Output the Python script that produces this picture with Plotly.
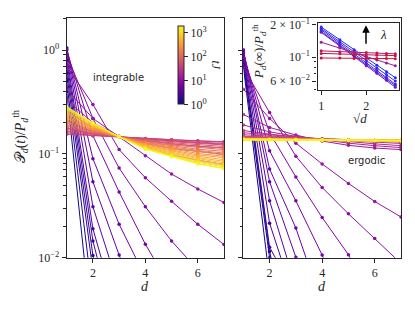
import math
import plotly.graph_objects as go
from plotly.colors import sample_colorscale

# ---------------- data ----------------
D = [1, 2, 3, 4, 5, 6, 7]

# times tJ of the curves in the left (integrable) panel
T_LEFT = [1.0, 1.22, 1.5, 1.8, 2.2, 2.7, 3.3, 4.0, 4.9, 6.0, 7.3, 8.9, 10.9,
          13.3, 16.2, 19.8, 24.2, 29.5, 36,
          44, 55, 68, 85, 106, 132, 164, 204, 254, 316, 393, 489, 608, 756, 940, 1170, 1450, 1780]

# P_d(t)/P_d^th for d = 1..7, integrable
P_LEFT = [
    [0.40, 0.0016, None, None, None, None, None],
    [0.50, 0.0040, None, None, None, None, None],
    [0.60, 0.0075, 0.0004, None, None, None, None],
    [0.70, 0.0105, 0.0008, None, None, None, None],
    [0.80, 0.0145, 0.0015, None, None, None, None],
    [0.90, 0.019, 0.0025, 0.0002, None, None, None],
    [1.00, 0.031, 0.005, 0.0006, None, None, None],
    [1.05, 0.054, 0.0106, 0.0025, 0.0004, None, None],
    [1.05, 0.090, 0.021, 0.0065, 0.0015, 0.0003, None],
    [1.00, 0.150, 0.043, 0.0135, 0.005, 0.0015, 0.0004],
    [0.90, 0.220, 0.073, 0.031, 0.0145, 0.0075, 0.004],
    [0.70, 0.300, 0.110, 0.059, 0.035, 0.021, 0.0134],
    [0.42, 0.220, 0.146, 0.096, 0.064, 0.046, 0.034],
    [0.33, 0.200, 0.148, 0.116, 0.098, 0.087, 0.079],
    [0.26, 0.178, 0.147, 0.126, 0.113, 0.105, 0.099],
    [0.21, 0.163, 0.146, 0.134, 0.125, 0.119, 0.114],
    [0.178, 0.155, 0.146, 0.139, 0.133, 0.128, 0.124],
    [0.160, 0.151, 0.146, 0.141, 0.137, 0.134, 0.131],
    [0.155, 0.150, 0.146, 0.141, 0.137, 0.133, 0.130],
    [0.166, 0.154, 0.146, 0.139, 0.134, 0.130, 0.126],
    [0.172, 0.156, 0.146, 0.137, 0.131, 0.126, 0.122],
    [0.178, 0.159, 0.146, 0.135, 0.128, 0.122, 0.118],
    [0.184, 0.162, 0.146, 0.133, 0.125, 0.118, 0.114],
    [0.190, 0.164, 0.146, 0.131, 0.122, 0.115, 0.110],
    [0.197, 0.167, 0.146, 0.129, 0.120, 0.111, 0.106],
    [0.204, 0.170, 0.146, 0.128, 0.117, 0.108, 0.102],
    [0.211, 0.173, 0.146, 0.126, 0.114, 0.105, 0.098],
    [0.219, 0.176, 0.146, 0.124, 0.112, 0.101, 0.095],
    [0.226, 0.179, 0.146, 0.122, 0.109, 0.098, 0.092],
    [0.234, 0.182, 0.146, 0.120, 0.107, 0.095, 0.088],
    [0.243, 0.185, 0.146, 0.119, 0.104, 0.092, 0.085],
    [0.251, 0.188, 0.146, 0.117, 0.102, 0.090, 0.082],
    [0.260, 0.191, 0.146, 0.115, 0.100, 0.087, 0.079],
    [0.268, 0.194, 0.146, 0.114, 0.098, 0.085, 0.077],
    [0.274, 0.196, 0.146, 0.113, 0.096, 0.083, 0.075],
    [0.280, 0.198, 0.146, 0.112, 0.095, 0.081, 0.073],
    [0.285, 0.200, 0.146, 0.111, 0.094, 0.080, 0.072],
]

# times tJ of the curves in the right (ergodic) panel
T_RIGHT = [1.0, 1.25, 1.55, 1.95, 2.4, 3.0, 3.7, 4.6, 5.7, 7.1, 8.8, 10.9,
           13.3, 16.2, 19.8, 24.2, 29.5, 36,
           44, 58, 76, 100, 132, 174, 229, 302, 398, 525, 692, 912, 1350, 1780]

P_RIGHT = [
    [0.70, 0.0062, None, None, None, None, None],
    [0.76, 0.0100, 0.0003, None, None, None, None],
    [0.82, 0.0115, 0.0009, None, None, None, None],
    [0.88, 0.0126, 0.0044, 0.0006, None, None, None],
    [0.93, 0.0215, 0.0036, None, None, None, None],
    [0.97, 0.0353, 0.0052, 0.0005, None, None, None],
    [1.00, 0.054, 0.0101, 0.0012, None, None, None],
    [1.00, 0.0716, 0.0193, 0.0035, 0.0004, None, None],
    [0.95, 0.107, 0.0353, 0.0106, 0.0025, 0.0005, None],
    [0.85, 0.160, 0.060, 0.0244, 0.0107, 0.0035, 0.0009],
    [0.68, 0.250, 0.095, 0.0475, 0.0265, 0.0153, 0.0088],
    [0.42, 0.220, 0.127, 0.080, 0.052, 0.0348, 0.0247],
    [0.24, 0.180, 0.152, 0.133, 0.121, 0.114, 0.110],
    [0.19, 0.163, 0.148, 0.136, 0.127, 0.120, 0.115],
    [0.168, 0.155, 0.146, 0.138, 0.131, 0.125, 0.120],
    [0.160, 0.152, 0.145, 0.139, 0.134, 0.129, 0.126],
    [0.153, 0.148, 0.143, 0.139, 0.136, 0.133, 0.130],
    [0.148, 0.145, 0.142, 0.139, 0.137, 0.135, 0.133],
    [0.146, 0.143, 0.141, 0.139, 0.137, 0.135, 0.133],
    [0.144, 0.142, 0.140, 0.138, 0.137, 0.135, 0.134],
    [0.142, 0.141, 0.139, 0.138, 0.136, 0.135, 0.134],
    [0.141, 0.140, 0.139, 0.137, 0.136, 0.135, 0.134],
    [0.140, 0.139, 0.138, 0.137, 0.136, 0.135, 0.134],
    [0.140, 0.139, 0.138, 0.137, 0.136, 0.135, 0.135],
    [0.139, 0.138, 0.138, 0.137, 0.136, 0.135, 0.135],
    [0.139, 0.138, 0.137, 0.137, 0.136, 0.135, 0.135],
    [0.139, 0.138, 0.137, 0.136, 0.136, 0.135, 0.135],
    [0.138, 0.138, 0.137, 0.136, 0.136, 0.135, 0.135],
    [0.139, 0.138, 0.137, 0.137, 0.136, 0.136, 0.136],
    [0.138, 0.137, 0.137, 0.136, 0.135, 0.135, 0.134],
    [0.137, 0.137, 0.136, 0.136, 0.135, 0.134, 0.134],
    [0.138, 0.137, 0.136, 0.136, 0.135, 0.135, 0.134],
]

# inset: P_d(inf)/P_d^th vs sqrt(d) for increasing lambda
LAMBDA = [0.0, 0.1, 0.2, 0.3, 0.4, 0.6, 0.8, 0.9, 1.0]
P_INF = [
    [0.189, 0.144, 0.117, 0.098, 0.084, 0.073, 0.0645],
    [0.183, 0.138, 0.111, 0.093, 0.079, 0.069, 0.060],
    [0.178, 0.133, 0.107, 0.088, 0.075, 0.065, 0.0563],
    [0.172, 0.129, 0.103, 0.086, 0.073, 0.063, 0.0545],
    [0.169, 0.126, 0.101, 0.083, 0.071, 0.061, 0.0527],
    [0.137, 0.121, 0.110, 0.101, 0.094, 0.088, 0.083],
    [0.114, 0.112, 0.111, 0.110, 0.109, 0.108, 0.107],
    [0.108, 0.107, 0.106, 0.105, 0.104, 0.104, 0.103],
    [0.098, 0.098, 0.097, 0.097, 0.097, 0.097, 0.0966],
]

CB_TICKS = [1, 10, 100, 1000]
LOG_T_MAX = 3.25  # colour scale upper end, log10(tJ)

# ---------------- figure ----------------
W, H = 415, 311


def px(x):
    return x / W


def py(y):
    return 1 - y / H


INK = '#262626'
SERIF = 'Liberation Serif'
SANS = 'DejaVu Sans'

fig = go.Figure()


def sup_label(v):
    e = int(round(math.log10(v)))
    return '10<sup>%s</sup>' % (str(e).replace('-', '\u2212'))


def add_panel(T, P, xa, ya, with_scale=False, late_width=1.0):
    logt = [math.log10(t) for t in T]
    cols = sample_colorscale('Plasma', [min(v / LOG_T_MAX, 1.0) for v in logt])
    n = len(P)
    for i, (lt, c, vals) in enumerate(zip(logt, cols, P)):
        marker = dict(size=3.5, color=c)
        if with_scale and i == n - 1:
            marker = dict(
                size=3.5, color=[lt] * len(D), colorscale='Plasma',
                cmin=0, cmax=LOG_T_MAX, showscale=True,
                colorbar=dict(
                    x=px(178.3), xanchor='left', xpad=0, ypad=0,
                    y=py(21.3), yanchor='top',
                    thickness=6, len=78, lenmode='pixels',
                    tickvals=[math.log10(t) for t in CB_TICKS],
                    ticktext=[sup_label(t) for t in CB_TICKS],
                    ticks='outside', ticklen=4, tickwidth=1, tickcolor=INK,
                    tickfont=dict(family=SERIF, size=12, color=INK),
                    outlinewidth=1, outlinecolor=INK,
                ),
            )
        w = late_width if lt >= 2.5 else 1.0
        fig.add_trace(go.Scatter(
            x=D, y=vals, mode='lines+markers',
            line=dict(color=c, width=w), marker=marker,
            xaxis=xa, yaxis=ya, showlegend=False, hoverinfo='skip',
        ))


add_panel(T_LEFT, P_LEFT, 'x', 'y', with_scale=True)
add_panel(T_RIGHT, P_RIGHT, 'x2', 'y2', late_width=1.6)

SQRT_D = [math.sqrt(d) for d in D]
inset_scale = [[0.0, '#1e2cff'], [0.25, '#4a22e0'], [0.45, '#7418bc'],
               [0.65, '#a81f86'], [0.85, '#c0184e'], [1.0, '#cc1238']]
inset_cols = sample_colorscale(inset_scale, LAMBDA)
for c, vals in zip(inset_cols, P_INF):
    fig.add_trace(go.Scatter(
        x=SQRT_D, y=vals, mode='lines+markers',
        line=dict(color=c, width=1), marker=dict(size=3, color=c),
        xaxis='x3', yaxis='y3', showlegend=False, hoverinfo='skip',
    ))

tickfont = dict(family=SERIF, size=12, color=INK)
common = dict(showline=True, mirror=True, linecolor=INK, linewidth=1.2,
              ticks='outside', tickcolor=INK, ticklen=4, tickwidth=1,
              showgrid=False, zeroline=False, tickfont=tickfont)
minor_main = [k * 10 ** e for e in (-2, -1, 0) for k in range(2, 10) if k * 10 ** e <= 2.0]
minor_cfg = dict(tickmode='array', tickvals=minor_main, ticks='outside',
                 ticklen=2.5, tickwidth=0.8, tickcolor=INK, showgrid=False)
YT = [0.01, 0.1, 1]

main_y = [py(262.7), py(13)]
fig.update_layout(
    width=W, height=H, margin=dict(l=0, r=0, t=0, b=0),
    paper_bgcolor='white', plot_bgcolor='white',
    xaxis=dict(domain=[px(66.7), px(224)], range=[1, 7], tickvals=[2, 4, 6],
               anchor='y', **common),
    yaxis=dict(domain=main_y, type='log', range=[-2, 0.305], tickvals=YT,
               ticktext=[sup_label(v) for v in YT], anchor='x',
               minor=minor_cfg, **common),
    xaxis2=dict(domain=[px(243.3), px(401)], range=[1, 7], tickvals=[2, 4, 6],
                anchor='y2', **common),
    yaxis2=dict(domain=main_y, type='log', range=[-2, 0.305], tickvals=YT,
                showticklabels=False, anchor='x2', minor=minor_cfg, **common),
    xaxis3=dict(domain=[px(317.5), px(399)], range=[0.918, 2.728], tickvals=[1, 2],
                anchor='y3', **common),
    yaxis3=dict(domain=[py(88), py(17.5)], type='log', range=[-1.307, -0.684],
                tickvals=[0.06, 0.1, 0.2],
                ticktext=['6 \u00d7 10<sup>\u22122</sup>', '10<sup>\u22121</sup>',
                          '2 \u00d7 10<sup>\u22121</sup>'],
                anchor='x3',
                minor=dict(tickmode='array', tickvals=[0.05, 0.07, 0.08, 0.09],
                           ticks='outside', ticklen=2.5, tickwidth=0.8,
                           tickcolor=INK, showgrid=False),
                **common),
)

ann = []


def text(x, y, s, size=12, family=SERIF, angle=0):
    ann.append(dict(x=px(x), y=py(y), xref='paper', yref='paper', text=s,
                    showarrow=False, xanchor='center', yanchor='middle',
                    textangle=angle, font=dict(family=family, size=size, color=INK)))


text(118, 75, 'integrable', size=10, family=SANS)
text(366.7, 161, 'ergodic', size=10, family=SANS)
text(145.3, 293, '<i>d</i>', size=14)
text(322, 293, '<i>d</i>', size=14)
text(20, 137, '\U0001D4AB<sub><i>d</i></sub>(<i>t</i>)/<i>P</i><sub><i>d</i></sub><sup>th</sup>',
     size=14, angle=-90)
text(259, 48, '<i>P</i><sub><i>d</i></sub>(\u221e)/<i>P</i><sub><i>d</i></sub><sup>th</sup>',
     size=13, angle=-90)
text(360, 117, '\u221a<i>d</i>', size=13)
text(383, 30, '<i>\u03bb</i>', size=13)
text(216, 61, '<i>tJ</i>', size=12, angle=90)
ann.append(dict(x=px(366), y=py(20), xref='paper', yref='paper', ax=0, ay=20,
                showarrow=True, arrowhead=2, arrowsize=1, arrowwidth=1.5,
                arrowcolor='black', text=''))
fig.update_layout(annotations=ann)

fig.write_html('out.html', config={'displayModeBar': False},
               post_script="document.body.style.margin='0';document.body.style.padding='0';")
